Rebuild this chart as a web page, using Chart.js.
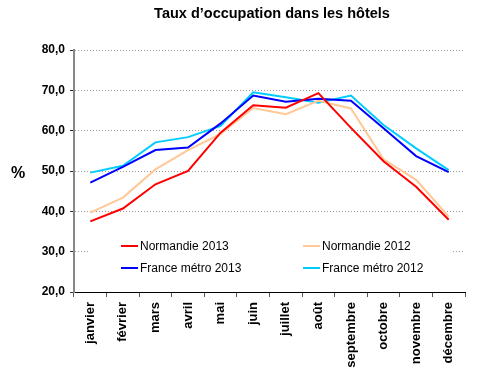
<!DOCTYPE html>
<html>
<head>
<meta charset="utf-8">
<script src="https://cdn.jsdelivr.net/npm/chart.js@4"></script>
<style>
  body { margin: 0; background: #fff; }
  #wrap { width: 494px; height: 376px; position: relative; }
</style>
</head>
<body>
<div id="wrap"><canvas id="chart"></canvas></div>
<script>
// data
const months = ['janvier', 'février', 'mars', 'avril', 'mai', 'juin', 'juillet', 'août', 'septembre', 'octobre', 'novembre', 'décembre'];
const normandie2013 = [37.5, 40.7, 46.7, 50.0, 59.5, 66.3, 65.7, 69.3, 60.7, 52.4, 46.1, 37.9];
const normandie2012 = [39.7, 43.4, 50.4, 55.2, 59.2, 65.6, 64.1, 67.4, 65.5, 52.9, 47.8, 38.7];
const france2013 = [47.1, 51.0, 55.2, 55.8, 61.8, 68.7, 67.2, 67.9, 67.4, 60.6, 53.7, 49.7];
const france2012 = [49.6, 51.3, 57.1, 58.4, 61.2, 69.5, 68.3, 66.9, 68.7, 61.4, 55.6, 50.2];

const titleText = 'Taux d’occupation dans les hôtels';
const font = '"Liberation Sans", Arial, sans-serif';

// title, "%" label and the legend box inside the plot
const extras = {
    id: 'extras',
    afterDraw(chart) {
        const ctx = chart.ctx;
        ctx.save();
        ctx.fillStyle = '#000';
        ctx.textBaseline = 'middle';
        ctx.textAlign = 'center';
        ctx.font = 'bold 14.5px ' + font;
        ctx.fillText(titleText, 272, 14);
        ctx.font = 'bold 16px ' + font;
        ctx.fillText('%', 18, 174);

        // legend
        ctx.fillStyle = '#fff';
        ctx.fillRect(88, 234, 365, 46);
        const pos = [[121, 246], [303, 246], [121, 268], [303, 268]];
        ctx.font = '12px ' + font;
        ctx.textAlign = 'left';
        chart.data.datasets.forEach((ds, i) => {
            const [x, y] = pos[i];
            ctx.strokeStyle = ds.borderColor;
            ctx.lineWidth = 2;
            ctx.beginPath();
            ctx.moveTo(x, y);
            ctx.lineTo(x + 17, y);
            ctx.stroke();
            ctx.fillStyle = '#000';
            ctx.fillText(ds.label, x + 19, y + 1);
        });
        ctx.restore();
    }
};

const ctx = document.getElementById('chart').getContext('2d');
const chart = new Chart(ctx, {
    type: 'line',
    data: {
        labels: months,
        datasets: [
            { label: 'Normandie 2013', data: normandie2013, borderColor: '#ff0000', order: 1 },
            { label: 'Normandie 2012', data: normandie2012, borderColor: '#ffc896', order: 3 },
            { label: 'France métro 2013', data: france2013, borderColor: '#0000ff', order: 2 },
            { label: 'France métro 2012', data: france2012, borderColor: '#00ccff', order: 4 }
        ]
    },
    options: {
        responsive: true,
        maintainAspectRatio: false,
        animation: false,
        layout: { padding: { left: 0, top: 50, right: 29, bottom: 0 } },
        elements: {
            line: { borderWidth: 2, tension: 0, fill: false },
            point: { radius: 0 }
        },
        plugins: {
            legend: { display: false },
            tooltip: { enabled: false }
        },
        scales: {
            x: {
                offset: true,
                grid: { offset: true, drawOnChartArea: false, drawTicks: true, tickLength: 5, color: '#555' },
                border: { color: '#000', width: 1 },
                ticks: {
                    minRotation: 90, maxRotation: 90, padding: 5,
                    color: '#000', font: { family: font, size: 13, weight: 'bold' }
                },
                afterFit(scale) { scale.height = 84; }
            },
            y: {
                min: 20, max: 80,
                grid: { color: '#999', tickLength: 4, tickColor: '#333' },
                border: { color: '#888', width: 2, dash: [1, 2] },
                ticks: {
                    stepSize: 10, padding: 5,
                    color: '#000', font: { family: font, size: 12, weight: 'bold' },
                    callback: v => v.toFixed(1).replace('.', ',')
                },
                afterFit(scale) { scale.width = 74; }
            }
        }
    },
    plugins: [extras]
});
</script>
</body>
</html>
